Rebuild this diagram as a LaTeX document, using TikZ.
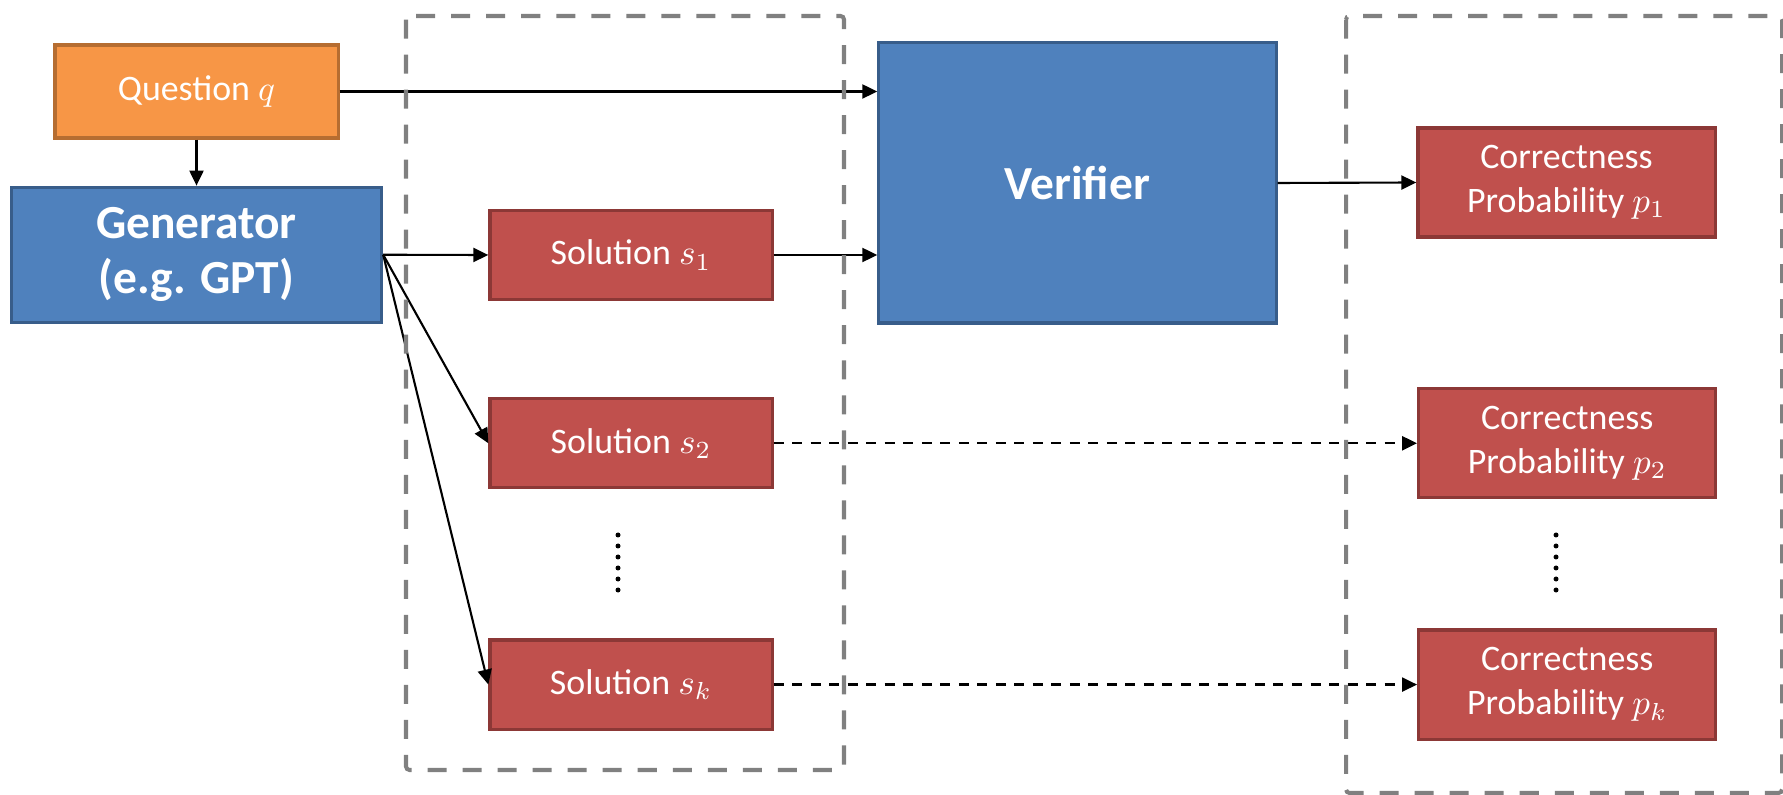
\documentclass[tikz,border=0pt]{standalone}
\usepackage{fontspec}
\setmainfont{Carlito}
\usepackage{xcolor}
\definecolor{cQuest}{HTML}{F79646}
\definecolor{cQuestLine}{HTML}{B66D31}
\definecolor{cModel}{HTML}{4F81BD}
\definecolor{cModelLine}{HTML}{385D8A}
\definecolor{cOut}{HTML}{C0504D}
\definecolor{cOutLine}{HTML}{8C3836}
\definecolor{cFrame}{HTML}{808080}
\usepackage{tikz}
\usetikzlibrary{positioning,arrows.meta}
\tikzset{
  node-box/.style={draw,line width=0.9pt,text=white,align=center,inner sep=0pt,
    font=\fontsize{10.2}{12.5}\selectfont},
  node-question/.style={node-box,draw=cQuestLine,fill=cQuest,
    minimum width=2.83cm,minimum height=0.93cm},
  node-model/.style={node-box,draw=cModelLine,fill=cModel,
    font=\fontsize{13.5}{15.7}\selectfont\bfseries},
  node-solution/.style={node-box,draw=cOutLine,fill=cOut,
    minimum width=2.82cm,minimum height=0.89cm},
  node-prob/.style={node-box,draw=cOutLine,fill=cOut,
    minimum width=2.97cm,minimum height=1.09cm},
  arrow/.style={-{Triangle[length=1.5mm,width=1.4mm]},line width=0.6pt},
  arrow-dashed/.style={arrow,line width=0.65pt,dash pattern=on 1mm off 0.85mm},
  group-frame/.style={draw=cFrame,line width=1.15pt,dash pattern=on 1.9mm off 1.6mm,
    rounded corners=1pt},
  vdot/.style={fill=black},
}

\begin{document}
\begin{tikzpicture}[x=0.01cm,y=-0.01cm]
  \useasboundingbox (0,0) rectangle (1783,795);
  \clip (0,0) rectangle (1783,795);
  % generator side
  \node[node-question] (q) at (196.5,91.5) {Question $q$};
  \node[node-model,minimum width=3.70cm,minimum height=1.35cm,below=0.46cm of q] (gen)
    {Generator\\(e.g. GPT)};
  % sampled solutions
  \node[node-solution] (s1) at (631,255) {Solution $s_1$};
  \node[node-solution,below=0.96cm of s1] (s2) {Solution $s_2$};
  \node[node-solution,below=1.49cm of s2] (sk) {Solution $s_k$};
  % verifier and its outputs
  \node[node-model,minimum width=3.97cm,minimum height=2.80cm] (ver) at (1077.5,183) {Verifier};
  \node[node-prob] (p1) at (1566.5,182.5) {Correctness\\Probability $p_1$};
  \node[node-prob,right=6.43cm of s2] (p2) {Correctness\\Probability $p_2$};
  \node[node-prob,right=6.43cm of sk] (pk) {Correctness\\Probability $p_k$};

  \draw[arrow] (q.east) -- (q.east -| ver.west);
  \draw[arrow] (q.south) -- (q.south |- gen.north);
  \draw[arrow] (gen.east) -- (s1.west);
  \draw[arrow] (gen.east) -- (s2.west);
  \draw[arrow] (gen.east) -- (sk.west);
  \draw[arrow] (s1.east) -- (s1.east -| ver.west);
  \draw[arrow] (ver.east) -- (p1.west);
  \draw[arrow-dashed] (s2.east) -- (p2.west);
  \draw[arrow-dashed] (sk.east) -- (pk.west);

  % vertical ellipses
  \foreach \i in {0,...,5} {
    \fill[vdot] (618,535+11*\i) circle[radius=0.25mm];
    \fill[vdot] (1556,535+11*\i) circle[radius=0.25mm];
  }

  \draw[group-frame] (406,16) rectangle (844,770);
  \draw[group-frame] (1346,16) rectangle (1782,793);
\end{tikzpicture}
\end{document}
